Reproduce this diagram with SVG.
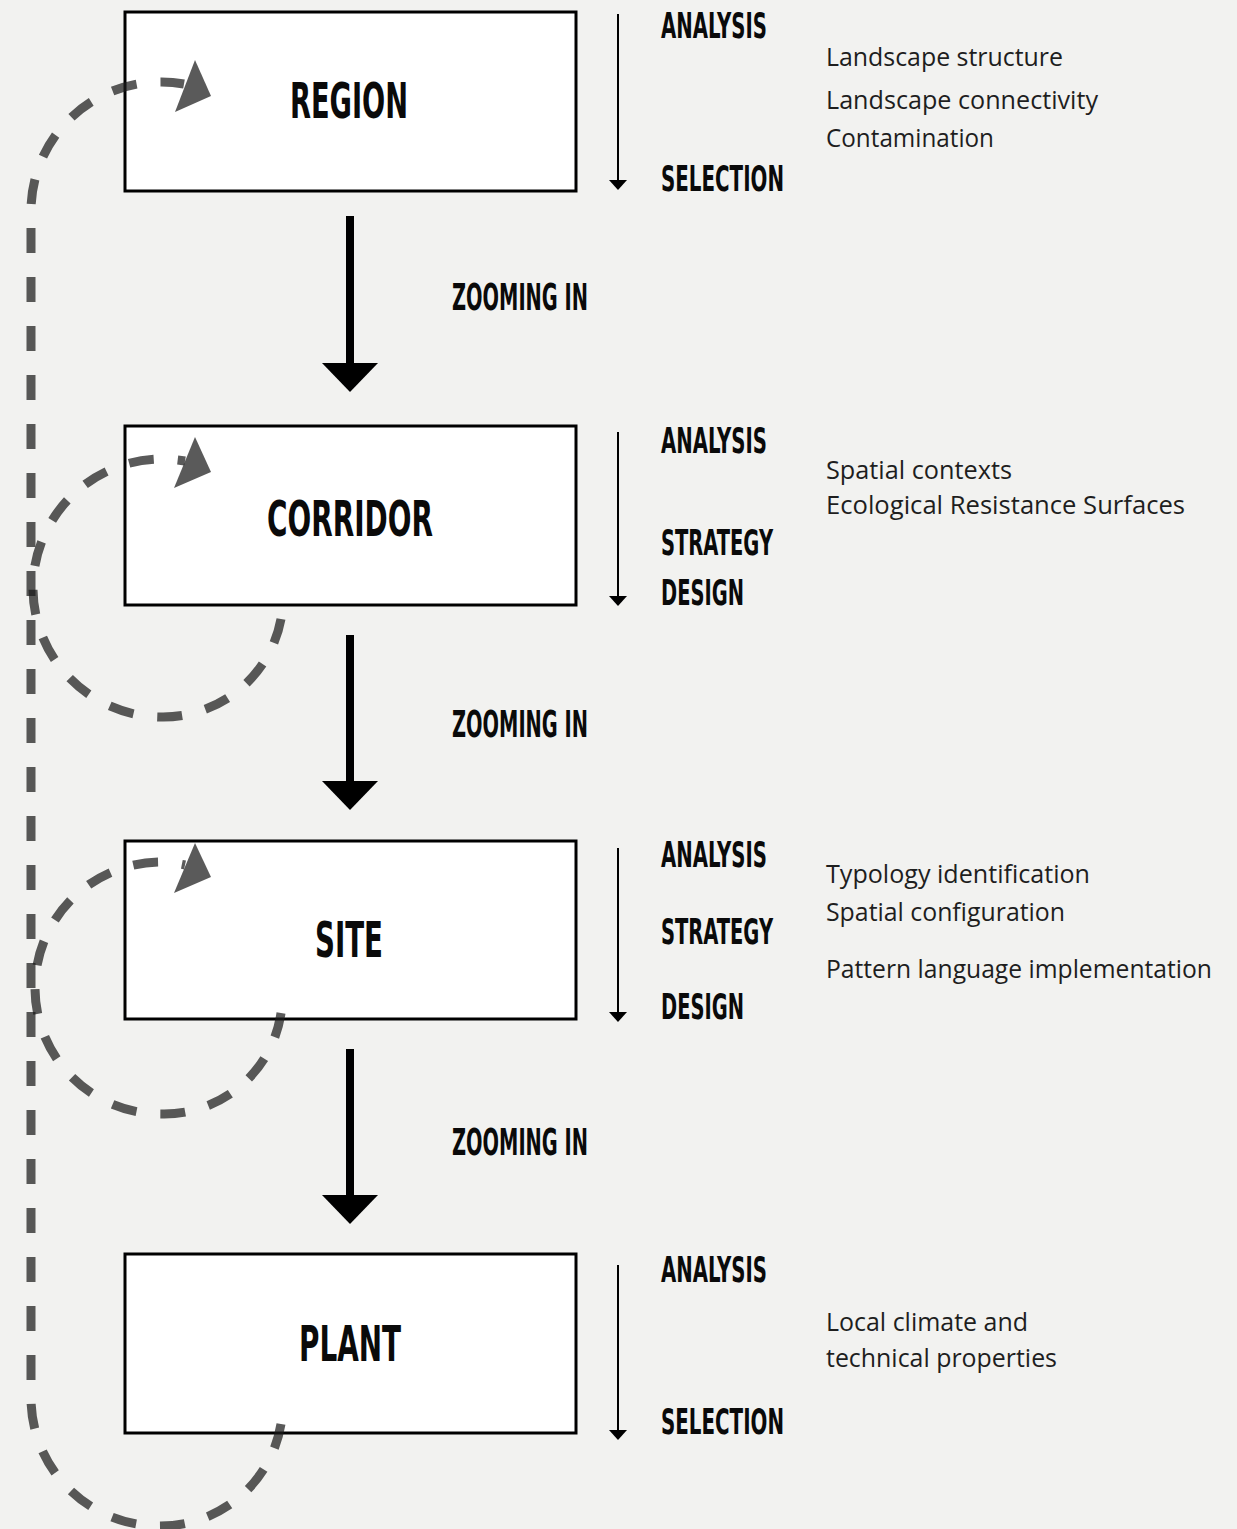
<svg xmlns="http://www.w3.org/2000/svg" width="1237" height="1529" viewBox="0 0 1237 1529">
<style>
.box{fill:#fff;stroke:#000;stroke-width:3}
.lbl{font-family:"Liberation Sans Narrow","DejaVu Sans Condensed","Liberation Sans",sans-serif;font-weight:bold;fill:#0a0a0a}
.node{font-size:49px;text-anchor:middle}
.step{font-size:35px}
.zoom{font-size:37px}
.note{font-family:"Open Sans","Noto Sans",sans-serif;font-size:25px;fill:#1e1e1e}
.loop{fill:none;stroke:#1a1a1a;stroke-opacity:0.72;stroke-width:9;stroke-dasharray:25 24}
.head{fill:#1a1a1a;fill-opacity:0.72}
.thin{stroke:#000;stroke-width:2}
.thick{stroke:#000;stroke-width:8}
</style>
<rect width="1237" height="1529" fill="#f2f2f0"/>

<g id="connectors">
  <!-- big zoom-in arrows -->
  <line class="thick" x1="350" y1="216" x2="350" y2="366"/>
  <polygon points="322,363 378,363 350,392"/>
  <line class="thick" x1="350" y1="635" x2="350" y2="784"/>
  <polygon points="322,781 378,781 350,810"/>
  <line class="thick" x1="350" y1="1049" x2="350" y2="1198"/>
  <polygon points="322,1195 378,1195 350,1224"/>
  <!-- thin process arrows -->
  <line class="thin" x1="618" y1="14" x2="618" y2="182"/>
  <polygon points="609,180 627,180 618,190"/>
  <line class="thin" x1="618" y1="432" x2="618" y2="598"/>
  <polygon points="609,596 627,596 618,606"/>
  <line class="thin" x1="618" y1="848" x2="618" y2="1014"/>
  <polygon points="609,1012 627,1012 618,1022"/>
  <line class="thin" x1="618" y1="1265" x2="618" y2="1432"/>
  <polygon points="609,1430 627,1430 618,1440"/>
</g>

<g id="node-region">
  <rect class="box" x="125" y="12" width="451" height="179"/>
  <text class="lbl node" x="349" y="118" textLength="118" lengthAdjust="spacingAndGlyphs">REGION</text>
  <text class="lbl step" x="661" y="38" textLength="106" lengthAdjust="spacingAndGlyphs">ANALYSIS</text>
  <text class="lbl step" x="661" y="191" textLength="123" lengthAdjust="spacingAndGlyphs">SELECTION</text>
  <text class="note" x="826" y="66" textLength="237" lengthAdjust="spacingAndGlyphs">Landscape structure</text>
  <text class="note" x="826" y="109" textLength="272" lengthAdjust="spacingAndGlyphs">Landscape connectivity</text>
  <text class="note" x="826" y="147" textLength="168" lengthAdjust="spacingAndGlyphs">Contamination</text>
</g>

<g id="node-corridor">
  <rect class="box" x="125" y="426" width="451" height="179"/>
  <text class="lbl node" x="350" y="536" textLength="166" lengthAdjust="spacingAndGlyphs">CORRIDOR</text>
  <text class="lbl step" x="661" y="453" textLength="106" lengthAdjust="spacingAndGlyphs">ANALYSIS</text>
  <text class="lbl step" x="661" y="555" textLength="112" lengthAdjust="spacingAndGlyphs">STRATEGY</text>
  <text class="lbl step" x="661" y="605" textLength="83" lengthAdjust="spacingAndGlyphs">DESIGN</text>
  <text class="note" x="826" y="479" textLength="186" lengthAdjust="spacingAndGlyphs">Spatial contexts</text>
  <text class="note" x="826" y="514" textLength="359" lengthAdjust="spacingAndGlyphs">Ecological Resistance Surfaces</text>
</g>

<g id="node-site">
  <rect class="box" x="125" y="841" width="451" height="178"/>
  <text class="lbl node" x="349" y="957" textLength="68" lengthAdjust="spacingAndGlyphs">SITE</text>
  <text class="lbl step" x="661" y="867" textLength="106" lengthAdjust="spacingAndGlyphs">ANALYSIS</text>
  <text class="lbl step" x="661" y="944" textLength="112" lengthAdjust="spacingAndGlyphs">STRATEGY</text>
  <text class="lbl step" x="661" y="1019" textLength="83" lengthAdjust="spacingAndGlyphs">DESIGN</text>
  <text class="note" x="826" y="883" textLength="264" lengthAdjust="spacingAndGlyphs">Typology identification</text>
  <text class="note" x="826" y="921" textLength="239" lengthAdjust="spacingAndGlyphs">Spatial configuration</text>
  <text class="note" x="826" y="978" textLength="386" lengthAdjust="spacingAndGlyphs">Pattern language implementation</text>
</g>

<g id="node-plant">
  <rect class="box" x="125" y="1254" width="451" height="179"/>
  <text class="lbl node" x="350" y="1361" textLength="102" lengthAdjust="spacingAndGlyphs">PLANT</text>
  <text class="lbl step" x="661" y="1282" textLength="106" lengthAdjust="spacingAndGlyphs">ANALYSIS</text>
  <text class="lbl step" x="661" y="1434" textLength="123" lengthAdjust="spacingAndGlyphs">SELECTION</text>
  <text class="note" x="826" y="1331" textLength="202" lengthAdjust="spacingAndGlyphs">Local climate and</text>
  <text class="note" x="826" y="1367" textLength="231" lengthAdjust="spacingAndGlyphs">technical properties</text>
</g>

<g id="zoom-labels">
  <text class="lbl zoom" x="452" y="310" textLength="136" lengthAdjust="spacingAndGlyphs">ZOOMING IN</text>
  <text class="lbl zoom" x="452" y="737" textLength="136" lengthAdjust="spacingAndGlyphs">ZOOMING IN</text>
  <text class="lbl zoom" x="452" y="1155" textLength="136" lengthAdjust="spacingAndGlyphs">ZOOMING IN</text>
</g>

<g id="loops">
  <!-- big loop plant -> region -->
  <path class="loop" d="M281,1424 A122,122 0 0 1 160,1526 A128,128 0 0 1 31,1398 L31,210 A129,129 0 0 1 160,82 A129,129 0 0 1 184,84"/>
  <polygon class="head" points="195,60 211,96 175,112"/>
  <!-- corridor loop -->
  <path class="loop" d="M281,619 A120,120 0 0 1 162,717 A129,129 0 0 1 33,588 A129,129 0 0 1 162,459 A129,129 0 0 1 185,461"/>
  <polygon class="head" points="195,437 211,472 174,488"/>
  <!-- site loop -->
  <path class="loop" d="M281,1013 A118,118 0 0 1 162,1114 A126,126 0 0 1 35,988 A126,126 0 0 1 162,862 A126,126 0 0 1 185,865"/>
  <polygon class="head" points="195,843 211,877 174,893"/>
</g>
</svg>
